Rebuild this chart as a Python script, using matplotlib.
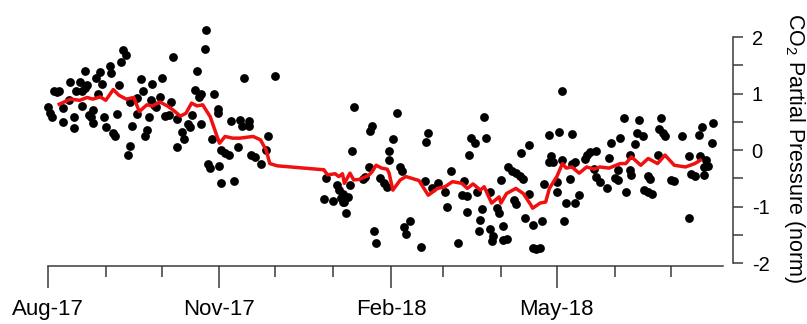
import numpy as np
import pandas as pd
import matplotlib
matplotlib.use("Agg")
import matplotlib.pyplot as plt
import matplotlib.dates as mdates

plt.rcParams['font.family'] = ['Liberation Sans', 'DejaVu Sans']
plt.rcParams['mathtext.fontset'] = 'custom'
plt.rcParams['mathtext.rm'] = 'Liberation Sans'

# ---- data (days since 2017-08-01, normalised CO2 partial pressure) ----
start_date = "2017-08-01"

dot_days = [
    40, 42, 39, 33, 34, 20, 28, 26, 29, 12, 17, 21, 38, 3, 5, 6, 15, 18, 20, 27,
    50, 56, 51, 55, 48, 44, 11, 0, 1, 2, 8, 18, 24, 22, 23, 37, 14, 30, 8, 24,
    31, 14, 45, 54, 48, 53, 52, 35, 36, 44, 43, 58,
    85, 84, 67, 80, 105, 61, 122, 79, 82, 81, 89, 60, 66, 57, 91, 91, 63, 65,
    69, 77, 75, 76, 82, 98, 103, 104, 108, 108, 118, 72, 73, 88, 69, 102, 117,
    93, 95, 97, 109, 111, 114, 86, 87, 92, 93, 100,
    164, 174, 173, 163, 172, 183, 183, 149, 155, 156, 158, 157, 162, 161, 159,
    158, 148, 153, 160, 169, 170, 178, 180, 182, 175, 176,
    187, 185, 189, 190, 204, 203, 202, 206, 209, 213, 216, 214, 194, 191, 192,
    200, 220, 234, 227, 229, 235, 226, 223, 222, 225, 230, 225, 233, 232, 231,
    237, 239, 238, 237, 243, 241, 242, 244, 244,
    276, 269, 274, 281, 258, 254, 270, 269, 271, 276, 281, 283, 247, 249, 251,
    253, 255, 280, 273, 266, 258, 273, 285, 283, 278, 250, 251, 256, 260, 265,
    277, 246, 260, 262, 264, 291, 289, 288, 294, 302, 301, 294, 296, 300, 293,
    304, 307,
    309, 317, 329, 316, 319, 328, 330, 331, 315, 340, 351, 349, 357, 356, 312,
    327, 344, 350, 353, 354, 352, 306, 306, 312, 313, 322, 323, 334, 336, 345,
    347, 352, 310, 320, 322, 324, 344,
]
dot_values = [
    1.77, 1.68, 1.55, 1.49, 1.36, 1.40, 1.38, 1.27, 1.17, 1.21, 1.21, 1.15, 1.15,
    1.05, 1.03, 1.05, 1.05, 1.05, 1.10, 0.99, 1.26, 1.17, 1.04, 0.88, 0.92, 0.85,
    0.88, 0.76, 0.65, 0.59, 0.74, 0.78, 0.70, 0.62, 0.59, 0.64, 0.59, 0.58, 0.50,
    0.47, 0.41, 0.39, 0.43, 0.59, 0.64, 0.35, 0.24, 0.30, 0.25, 0.07, -0.08, 0.77,
    2.12, 1.78, 1.64, 1.40, 1.27, 1.27, 1.31, 1.06, 1.00, 0.93, 1.00, 0.93, 0.85,
    0.80, 0.72, 0.66, 0.60, 0.62, 0.54, 0.62, 0.46, 0.40, 0.46, 0.52, 0.53, 0.42,
    0.51, 0.42, 0.25, 0.32, 0.19, 0.19, 0.06, 0.06, 0.00, 0.00, -0.05, -0.09,
    -0.09, -0.13, -0.24, -0.25, -0.32, -0.28, -0.58, -0.55,
    0.77, 0.42, 0.34, -0.01, -0.30, -0.01, -0.18, -0.50, -0.62, -0.71, -0.77,
    -0.85, -0.62, -0.83, -0.92, -0.92, -0.87, -0.91, -1.11, -0.52, -0.48, -0.50,
    -0.59, -0.65, -1.43, -1.64,
    0.66, 0.19, -0.30, -0.38, 0.30, 0.14, -0.55, -0.68, -0.58, -0.74, -0.38,
    -1.01, -1.26, -1.37, -1.49, -1.72, -1.64, 0.58, 0.21, 0.13, 0.21, -0.09,
    -0.55, -0.80, -0.81, -0.75, -1.09, -1.05, -1.23, -1.44, -1.39, -1.53, -1.61,
    -0.75, -0.53, -1.03, -1.12, -1.35, -1.59,
    1.04, 0.27, 0.32, 0.28, 0.08, -0.05, -0.11, -0.21, -0.21, -0.18, -0.24,
    -0.22, -0.30, -0.38, -0.41, -0.46, -0.52, -0.52, -0.56, -0.60, -0.78, -0.75,
    -0.80, -0.93, -0.93, -0.88, -0.96, -1.21, -1.32, -1.26, -1.26, -1.58, -1.74,
    -1.76, -1.74, -0.03, -0.09, -0.16, -0.01, 0.13, -0.15, -0.47, -0.56, -0.68,
    -0.34, -0.50, 0.21,
    0.56, 0.53, 0.56, 0.30, 0.25, 0.38, 0.30, 0.25, 0.11, 0.25, 0.41, 0.27, 0.47,
    0.12, -0.09, -0.09, -0.11, -0.11, -0.18, -0.28, -0.30, -0.35, -0.53, -0.35,
    -0.44, -0.46, -0.52, -0.53, -0.54, -0.42, -0.46, -0.44, -0.75, -0.70, -0.74,
    -0.77, -1.20,
]

line_days = [
    6, 12, 17, 21, 24, 28, 31, 35, 38, 42, 46, 49, 53, 56, 60, 64, 67, 71, 74,
    77, 80, 83, 87, 92, 95, 99, 103, 110, 114, 117, 119, 123, 148, 150, 154,
    156, 158, 159, 162, 164, 167, 172, 174, 176, 179, 182, 183, 185, 189, 192,
    199, 204, 209, 213, 217, 222, 225, 228, 232, 234, 238, 242, 243, 246, 251,
    255, 259, 260, 264, 267, 269, 273, 276, 278, 281, 285, 289, 293, 296, 301,
    307, 310, 313, 318, 322, 327, 331, 336, 342, 347, 350,
]
line_values = [
    0.81, 0.90, 0.88, 0.93, 0.90, 0.94, 0.88, 1.07, 0.97, 0.90, 0.93, 0.68,
    0.80, 0.78, 0.85, 0.78, 0.71, 0.60, 0.65, 0.83, 0.78, 0.80, 0.59, 0.12,
    0.24, 0.21, 0.21, 0.24, 0.18, 0.00, -0.24, -0.28, -0.35, -0.44, -0.42,
    -0.47, -0.42, -0.59, -0.41, -0.53, -0.52, -0.45, -0.38, -0.27, -0.32,
    -0.34, -0.41, -0.71, -0.53, -0.47, -0.54, -0.80, -0.68, -0.65, -0.56,
    -0.59, -0.68, -0.60, -0.71, -0.65, -0.94, -0.83, -0.94, -0.77, -0.68,
    -0.77, -0.97, -1.03, -0.94, -0.92, -0.68, -0.47, -0.24, -0.32, -0.30,
    -0.41, -0.30, -0.34, -0.30, -0.32, -0.24, -0.24, -0.12, -0.27, -0.15,
    -0.24, -0.09, -0.27, -0.30, -0.24, -0.18,
]

major_labels = ["Aug-17", "Nov-17", "Feb-18", "May-18"]
y_ticks = [-2, -1, 0, 1, 2]
y_labels = ["-2", "-1", "0", "1", "2"]
ylabel = "CO$_\\mathregular{2}$ Partial Pressure (norm)"

# ---- build ----
base = pd.Timestamp(start_date)
dot_dates = base + pd.to_timedelta(dot_days, unit="D")
line_dates = base + pd.to_timedelta(line_days, unit="D")

W, H = 807, 324
fig = plt.figure(figsize=(W / 100, H / 100), dpi=100)
ax = fig.add_axes([40 / W, (H - 266) / H, (733 - 40) / W, 266 / H])

ax.scatter(dot_dates, dot_values, s=40, color="black", linewidths=0, zorder=2)
ax.plot(line_dates, line_values, color="#f01010", lw=2.5, zorder=3)

x0 = mdates.date2num(base)
ax.set_xlim(x0 - 4.3, x0 + 367.5)
ax.set_ylim(-2.053, 2.655)

for s in ["top", "left"]:
    ax.spines[s].set_visible(False)
axis_col = "#3a3a3a"
ax.spines["bottom"].set_color(axis_col)
ax.spines["right"].set_color(axis_col)
ax.spines["bottom"].set_linewidth(1.1)
ax.spines["right"].set_linewidth(1.1)
ax.spines["bottom"].set_bounds(x0, x0 + 362)
ax.spines["right"].set_bounds(-2, 2)

# x ticks: monthly, labelled every 3 months
months = pd.date_range("2017-08-01", "2018-07-01", freq="MS")
major = [m for m in months if m.month in (8, 11, 2, 5)]
minor = [m for m in months if m.month not in (8, 11, 2, 5)]
ax.set_xticks(mdates.date2num(major))
ax.set_xticklabels(major_labels, fontsize=16)
ax.set_xticks(mdates.date2num(minor), minor=True)
ax.tick_params(axis="x", which="major", direction="out", length=16, width=1.1,
               color=axis_col, pad=8)
ax.tick_params(axis="x", which="minor", direction="out", length=8, width=1.1,
               color=axis_col)

ax.yaxis.tick_right()
ax.set_yticks(y_ticks)
ax.set_yticklabels(y_labels, fontsize=14.5)
ax.set_yticks(np.arange(-1.5, 2.0, 1.0), minor=True)
ax.tick_params(axis="y", which="both", direction="out", length=7.5, width=1.1,
               color=axis_col, pad=6)
ax.tick_params(axis="y", which="minor", labelright=False)

fig.text(795 / W, 1 - 148 / H, ylabel, rotation=270, ha="center", va="center",
         fontsize=15.5)

fig.savefig("out.png", dpi=100)
